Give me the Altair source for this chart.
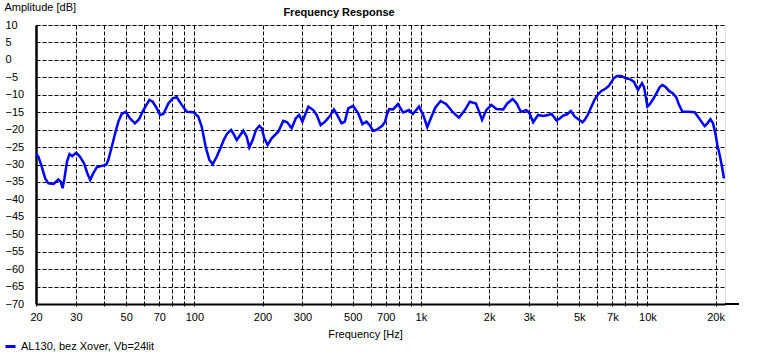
import altair as alt
import pandas as pd

FONT = "Liberation Sans"

freq_hz = [
    20, 20.5, 21.2, 21.95, 22.7, 23.9, 25.1, 25.7, 26.2, 26.7, 27.4, 28.1, 28.9, 30.1,
    31.3, 32.6, 33.7, 34.7, 35.8, 37.1, 39.0, 40.8, 41.7, 43.2, 44.7, 46.2, 47.8, 49.8,
    52.0, 54.7, 57.0, 59.6, 63.3, 65.5, 68.3, 70.6, 73.0, 76.8, 80.3, 83.6, 88.0, 92.6,
    99.0, 104.1, 107.8, 112.6, 116.5, 120.5, 125.5, 130.7, 135.2, 139.8, 145.2, 148.6,
    153.9, 159.2, 164.5, 170.2, 174.9, 180.9, 187.1, 193.6, 198.3, 203.6, 210.6, 219.4,
    234.6, 246.9, 257.0, 268.9, 280.2, 289.9, 299.9, 308.1, 318.6, 335.2, 347.0, 361.2,
    377.6, 396.7, 413.0, 427.0, 446.4, 461.6, 477.9, 502, 529, 552, 575, 594, 616, 636,
    675, 695, 707, 725, 754, 792, 835, 885, 922, 981, 1024, 1067, 1105, 1157, 1222, 1295,
    1384, 1472, 1564, 1644, 1750, 1808, 1862, 1944, 2045, 2155, 2309, 2406, 2541, 2647,
    2761, 2919, 3016, 3131, 3290, 3461, 3643, 3772, 3862, 3968, 4103, 4243, 4420, 4589,
    4779, 4993, 5169, 5289, 5470, 5662, 5855, 6054, 6267, 6546, 6770, 6936, 7100, 7343,
    7679, 8024, 8414, 8728, 8944, 9090, 9313, 9468, 9662, 9829, 10000, 10235, 10585,
    10957, 11332, 11646, 12042, 12453, 12971, 13427, 13787, 14270, 15102, 16169, 16721,
    17308, 17896, 18396, 18966, 19475, 19950, 20361, 20841, 21332, 21770,
]

amp_db = [
    -26.8, -27.8, -30.6, -34.0, -35.4, -35.6, -34.3, -34.9, -36.8, -34.0, -29.2, -27.0, -27.6, -26.6,
    -27.8, -29.7, -32.5, -34.4, -32.5, -30.8, -30.4, -30.1, -28.7, -24.9, -21.1, -17.7, -15.5, -14.9,
    -16.8, -18.2, -17.0, -14.4, -11.5, -12.0, -13.9, -15.8, -15.5, -12.5, -11.0, -10.7, -12.9, -14.9,
    -15.0, -16.3, -19.2, -25.4, -28.7, -29.9, -27.8, -25.1, -22.8, -21.1, -20.1, -21.1,
    -23.0, -21.6, -20.3, -22.0, -25.1, -23.0, -20.1, -18.9, -19.6, -22.5, -24.4, -22.5,
    -20.6, -17.5, -17.9, -19.6, -16.8, -15.8, -17.7, -15.8, -13.4, -14.4, -15.8, -18.7,
    -17.7, -16.1, -14.2, -15.8, -18.2, -17.7, -13.9, -13.2, -15.3, -18.4, -17.7, -18.7, -20.4, -20.1,
    -18.9, -17.7, -15.8, -14.1, -14.2, -12.7, -15.1, -14.4, -15.5, -13.4, -15.8, -19.3, -16.8, -13.7, -11.8, -12.7,
    -15.0, -16.6, -14.4, -12.0, -12.5, -14.9, -17.2, -14.4, -12.9, -14.1, -14.2, -12.5, -11.2, -12.5,
    -14.9, -14.4, -15.3, -17.9, -15.8, -16.1, -15.8, -15.5, -16.3, -17.4, -16.8, -16.0, -15.6, -14.7,
    -16.3, -17.2, -17.9, -17.2, -15.6, -13.4, -11.3, -9.9, -8.9, -8.2, -7.4, -6.3, -5.3, -4.6,
    -4.6, -5.3, -5.6, -6.3, -7.8, -8.6, -7.4, -6.7, -7.8, -10.6, -13.4, -12.7, -11.3,
    -9.6, -7.8, -7.2, -7.8, -8.9, -9.6, -10.8, -12.9, -14.9, -14.9, -15.0, -16.3,
    -17.7, -19.0, -18.2, -17.0, -18.2, -21.1, -24.4, -27.3, -30.6, -34.0,
]

series_name = "AL130, bez Xover, Vb=24lit"

x_tick_values = [20, 30, 40, 50, 60, 70, 80, 90, 100, 200, 300, 400, 500, 600, 700, 800, 900,
                 1000, 2000, 3000, 4000, 5000, 6000, 7000, 8000, 9000, 10000, 20000]
x_label_values = [20, 30, 50, 70, 100, 200, 300, 500, 700, 1000, 2000, 3000, 5000, 7000, 10000, 20000]
y_tick_values = [-70, -65, -60, -55, -50, -45, -40, -35, -30, -25, -20, -15, -10, -5, 0, 5, 10]

df = pd.DataFrame({"freq": freq_hz, "amp": amp_db, "series": series_name})

label_list = "[" + ",".join(str(v) for v in x_label_values) + "]"
x_label_expr = (
    f"indexof({label_list}, datum.value) >= 0 ? "
    "(datum.value >= 1000 ? (datum.value / 1000) + 'k' : '' + datum.value) : ''"
)

W, H = 689, 279

grid_style = dict(grid=True, gridColor="black", gridDash=[4, 2], gridWidth=1, gridOpacity=1)

x_axis = alt.Axis(
    values=x_tick_values, labelExpr=x_label_expr, **grid_style,
    domainColor="black", domainWidth=2,
    tickColor="black", tickSize=4, tickWidth=1, tickDash=[2, 2],
    labelFont=FONT, labelFontSize=11, labelColor="black", labelPadding=3,
    labelFlush=False, labelOverlap=False,
    title="Frequency [Hz]", titleFont=FONT, titleFontSize=11, titleFontWeight="normal",
    titleColor="black", titleX=329, titleY=33, titleAlign="center", titleBaseline="alphabetic",
)

y_axis = alt.Axis(
    values=y_tick_values, **grid_style,
    domainColor="black", domainWidth=2.5,
    tickSize=0, labelAlign="left", labelPadding=31, labelBaseline="middle",
    labelFont=FONT, labelFontSize=11, labelColor="black", labelFlush=False, labelOverlap=False,
    title="Amplitude [dB]", titleFont=FONT, titleFontSize=11, titleFontWeight="normal",
    titleColor="black", titleAngle=0, titleX=-32, titleY=-15, titleAlign="left",
    titleBaseline="alphabetic",
)

line = alt.Chart(df).mark_line(strokeWidth=2.5, clip=True).encode(
    x=alt.X("freq:Q", scale=alt.Scale(type="log", domain=[20, 22000], nice=False), axis=x_axis),
    y=alt.Y("amp:Q", scale=alt.Scale(domain=[-70, 10], nice=False, zero=False), axis=y_axis),
    color=alt.Color(
        "series:N",
        scale=alt.Scale(domain=[series_name], range=["#0000ff"]),
        legend=alt.Legend(
            orient="none", legendX=-32, legendY=315, title=None,
            symbolType="stroke", symbolStrokeWidth=3, symbolSize=100,
            labelFont=FONT, labelFontSize=11, labelColor="black", labelOffset=4,
            padding=0,
        ),
    ),
)

axis_ext = alt.Chart(df).mark_rule(color="black", strokeWidth=2).encode(
    x=alt.value(W), x2=alt.value(W + 14), y=alt.value(H)
)

title_df = pd.DataFrame({"t": ["Frequency Response"]})
title_mark = alt.Chart(title_df).mark_text(
    font=FONT, fontSize=11, fontWeight="bold", color="black", baseline="alphabetic", align="center"
).encode(text="t:N", x=alt.value(303), y=alt.value(-9))

chart = alt.layer(line, axis_ext, title_mark).properties(
    width=W, height=H,
    padding={"left": 36, "top": 25, "right": 50, "bottom": 50},
    autosize=alt.AutoSizeParams(type="none"),
).configure_view(stroke="transparent").configure(background="white")

chart.save("out.html", embed_options={"renderer": "svg", "actions": False})
